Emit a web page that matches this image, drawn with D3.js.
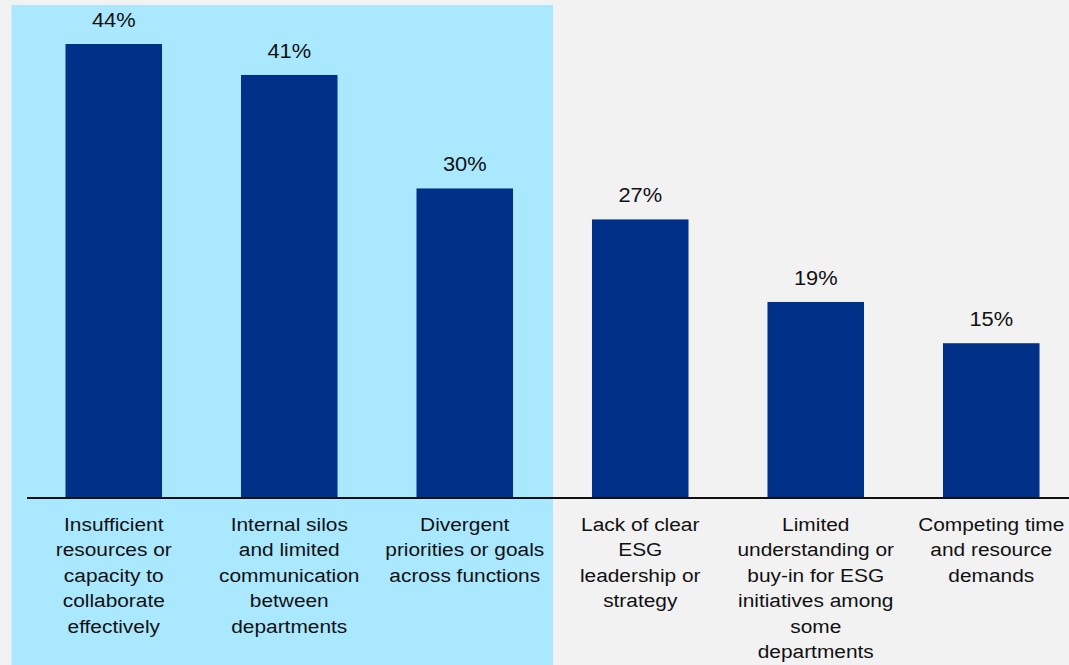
<!DOCTYPE html>
<html>
<head>
<meta charset="utf-8">
<script src="https://cdn.jsdelivr.net/npm/d3@7"></script>
<style>
  body { margin: 0; background: #f2f2f2; }
  svg { display: block; font-family: "Liberation Sans", Arial, sans-serif; }
</style>
</head>
<body>
<div id="chart"></div>
<script>
const categories = [
  ["Insufficient", "resources or", "capacity to", "collaborate", "effectively"],
  ["Internal silos", "and limited", "communication", "between", "departments"],
  ["Divergent", "priorities or goals", "across functions"],
  ["Lack of clear", "ESG", "leadership or", "strategy"],
  ["Limited", "understanding or", "buy-in for ESG", "initiatives among", "some", "departments"],
  ["Competing time", "and resource", "demands"]
];
const values = [44, 41, 30, 27, 19, 15];
const highlighted = [0, 1, 2]; // first three get the light blue panel

const width = 1069;
const height = 665;
const baseY = 498;

const svg = d3.select("#chart")
  .append("svg")
  .attr("width", width)
  .attr("height", height);

const x = d3.scaleBand()
  .domain(d3.range(values.length))
  .range([26, 1079])
  .paddingInner(0.45)
  .paddingOuter(0.225);

const y = d3.scaleLinear()
  .domain([0, 44])
  .range([baseY, 44]);

// highlight panel behind first group
const hx0 = x(highlighted[0]) - 54;
const hx1 = x(highlighted[highlighted.length - 1]) + x.bandwidth() + 40;
svg.append("rect")
  .attr("x", hx0)
  .attr("y", 5)
  .attr("width", hx1 - hx0)
  .attr("height", height - 5)
  .attr("fill", "#aae8ff");

svg.selectAll(".bar")
  .data(values)
  .enter()
  .append("rect")
  .attr("class", "bar")
  .attr("x", (d, i) => x(i))
  .attr("y", d => y(d))
  .attr("width", x.bandwidth())
  .attr("height", d => baseY - y(d))
  .attr("fill", "#003087");

// the source text looks a bit stretched sideways, so scale x a little
svg.selectAll(".val")
  .data(values)
  .enter()
  .append("text")
  .attr("class", "val")
  .attr("transform", (d, i) => `translate(${x(i) + x.bandwidth() / 2}, ${y(d) - 17}) scale(1.12, 1)`)
  .attr("text-anchor", "middle")
  .attr("font-size", 19.5)
  .attr("fill", "#111")
  .text(d => d + "%");

svg.append("line")
  .attr("x1", 27)
  .attr("x2", width)
  .attr("y1", baseY)
  .attr("y2", baseY)
  .attr("stroke", "#111")
  .attr("stroke-width", 2);

const labels = svg.selectAll(".cat")
  .data(categories)
  .enter()
  .append("text")
  .attr("class", "cat")
  .attr("text-anchor", "middle")
  .attr("font-size", 18)
  .attr("fill", "#111")
  .attr("transform", (d, i) => `translate(${x(i) + x.bandwidth() / 2}, 531) scale(1.16, 1)`);

labels.selectAll("tspan")
  .data(d => d)
  .enter()
  .append("tspan")
  .attr("x", 0)
  .attr("y", (d, j) => j * 25.5)
  .text(d => d);
</script>
</body>
</html>
